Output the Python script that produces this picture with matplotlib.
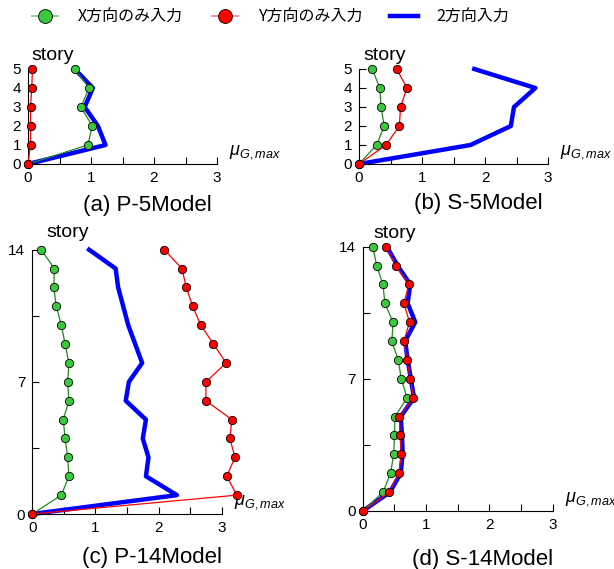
import numpy as np
import matplotlib.pyplot as plt
from matplotlib.lines import Line2D
from matplotlib.ticker import MultipleLocator

plt.rcParams['font.family'] = ['Liberation Sans', 'DejaVu Sans']
plt.rcParams['mathtext.fontset'] = 'custom'
plt.rcParams['mathtext.it'] = 'Liberation Sans:italic'
plt.rcParams['mathtext.rm'] = 'Liberation Sans'

# データ (各階の応答値, 0階から上へ)
story5 = [0, 1, 2, 3, 4, 5]
story14 = list(range(15))

p5_x = [0, 0.95, 1.02, 0.84, 0.97, 0.74]
p5_y = [0, 0.04, 0.04, 0.04, 0.06, 0.07]
p5_xy = [0, 1.23, 1.11, 0.90, 1.03, 0.74]

s5_x = [0, 0.28, 0.40, 0.35, 0.33, 0.21]
s5_y = [0, 0.43, 0.64, 0.66, 0.76, 0.60]
s5_xy = [0, 1.77, 2.41, 2.46, 2.80, 1.83]

p14_x = [0, 0.46, 0.58, 0.56, 0.52, 0.49, 0.58, 0.56, 0.58, 0.52, 0.46, 0.38, 0.34, 0.35, 0.14]
p14_y = [0, 3.24, 3.08, 3.21, 3.13, 3.16, 2.75, 2.75, 3.07, 2.87, 2.67, 2.54, 2.44, 2.37, 2.09]
p14_xy = [0, 2.29, 1.80, 1.84, 1.75, 1.80, 1.48, 1.53, 1.74, 1.63, 1.52, 1.44, 1.36, 1.32, 0.90]

s14_x = [0, 0.32, 0.44, 0.49, 0.50, 0.51, 0.70, 0.61, 0.56, 0.46, 0.48, 0.35, 0.32, 0.22, 0.16]
s14_y = [0, 0.42, 0.57, 0.61, 0.59, 0.58, 0.80, 0.75, 0.70, 0.65, 0.74, 0.65, 0.73, 0.52, 0.37]
s14_xy = [0, 0.43, 0.60, 0.63, 0.62, 0.60, 0.81, 0.76, 0.71, 0.67, 0.83, 0.71, 0.75, 0.55, 0.38]

titles = ['(a) P-5Model', '(b) S-5Model', '(c) P-14Model', '(d) S-14Model']
labels = ['X方向のみ入力', 'Y方向のみ入力', '2方向入力']

W, H = 614, 569
fig = plt.figure(figsize=(W / 100, H / 100), dpi=100)

# 軸の位置 (ピクセル: 左, 下, 右, 上)
boxes = [(28, 164, 217, 69), (359, 164, 548, 69),
         (32.3, 514, 221.7, 249.7), (362.7, 511, 552.7, 246.7)]
panels = [(story5, p5_x, p5_y, p5_xy), (story5, s5_x, s5_y, s5_xy),
          (story14, p14_x, p14_y, p14_xy), (story14, s14_x, s14_y, s14_xy)]
story_off = [(25, 9), (26, 9), (35, 13), (32, 9)]

gcol = '#1e8c1e'
gface = '#3cc83c'

for i, (box, pan) in enumerate(zip(boxes, panels)):
    l, b, r, t = box
    ax = fig.add_axes([l / W, 1 - b / H, (r - l) / W, (b - t) / H])
    st, xs, ys, xys = pan
    ax.plot(xys, st, color='#0000ff', lw=3.2, zorder=2, clip_on=False)
    ax.plot(xs, st, color=gcol, lw=0.9, marker='o', ms=6, mfc=gface, mec='k',
            mew=0.6, zorder=3, clip_on=False)
    ax.plot(ys, st, color='#ff0000', lw=0.9, marker='o', ms=6, mfc='#ff0000', mec='k',
            mew=0.6, zorder=4, clip_on=False)
    ax.set_xlim(0, 3)
    nmax = st[-1]
    ax.set_ylim(0, nmax)
    ax.xaxis.set_major_locator(MultipleLocator(1))
    ax.xaxis.set_minor_locator(MultipleLocator(0.5))
    if nmax == 5:
        ax.yaxis.set_major_locator(MultipleLocator(1))
    else:
        ax.yaxis.set_major_locator(MultipleLocator(7))
        ax.yaxis.set_minor_locator(MultipleLocator(3.5))
    ax.spines['top'].set_visible(False)
    ax.spines['right'].set_visible(False)
    ax.tick_params(which='both', direction='in', length=5, width=0.8, labelsize=11, pad=5)
    ax.patch.set_alpha(0)
    dx, dy = story_off[i]
    ax.annotate('story', xy=(0, 1), xycoords='axes fraction', xytext=(dx * 0.72, dy * 0.72),
                textcoords='offset points', ha='center', va='baseline', fontsize=14)
    ax.annotate(r'$\mu_{G,max}$', xy=(1, 0), xycoords='axes fraction', xytext=(12 * 0.72, 12 * 0.72),
                textcoords='offset points', ha='left', va='center', fontsize=13)
    cx = (l + r) / 2 + 25
    cy = [205, 203, 558, 560][i]
    fig.text(cx / W, 1 - cy / H, titles[i], ha='center', va='center', fontsize=16)

# 凡例 (上部に手動配置)
leg_y = 1 - 16 / H
leg_style = [dict(color='#7cc87c', lw=1.2, marker='o', ms=10, mfc=gface, mec='k', mew=0.6),
             dict(color='#f08080', lw=1.2, marker='o', ms=10, mfc='#ff0000', mec='k', mew=0.6),
             dict(color='#0000ff', lw=3.2)]
leg_line = [(32, 58), (212, 238), (390, 418)]
leg_text = [78, 258, 436]
for lab, sty, (x0, x1), tx in zip(labels, leg_style, leg_line, leg_text):
    fig.add_artist(Line2D([x0 / W, x1 / W], [leg_y, leg_y], transform=fig.transFigure,
                          markevery=[], **{k: v for k, v in sty.items()}))
    if 'marker' in sty:
        fig.add_artist(Line2D([(x0 + x1) / 2 / W], [leg_y], transform=fig.transFigure,
                              ls='none', **{k: v for k, v in sty.items() if k not in ('color', 'lw')}))
    fig.text(tx / W, leg_y, lab, ha='left', va='center', fontsize=11.5,
             family=['Noto Sans CJK JP', 'DejaVu Sans'])

fig.savefig('out.png', dpi=100)
